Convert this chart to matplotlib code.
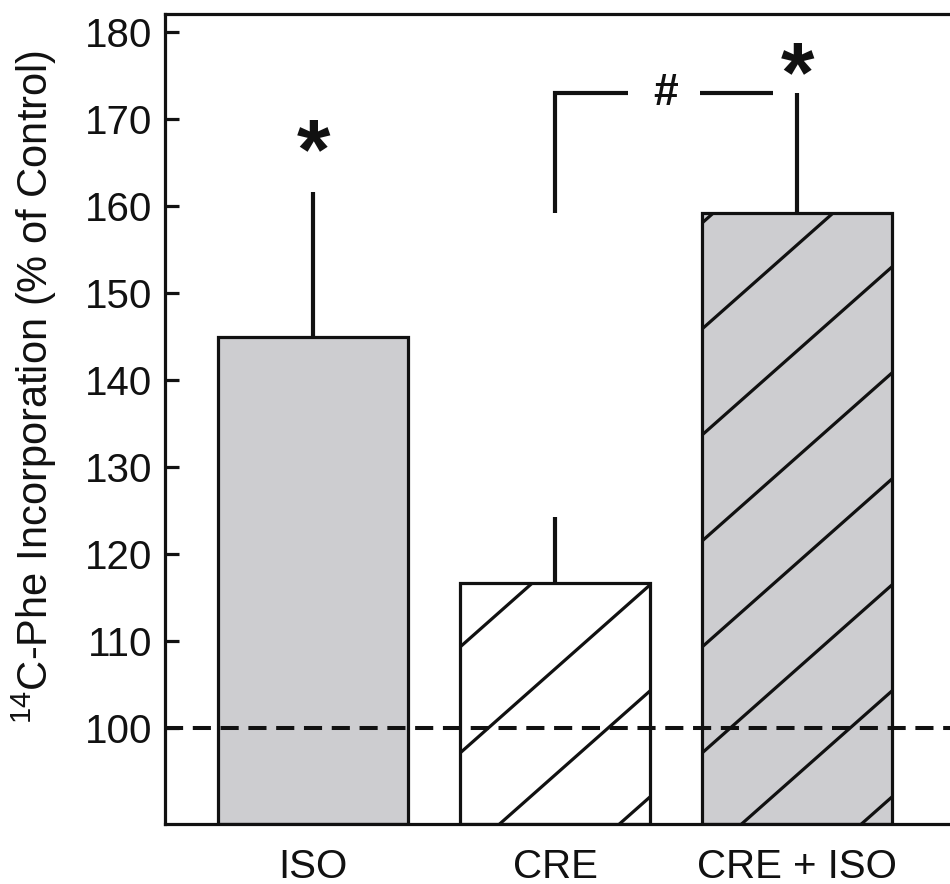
import matplotlib
matplotlib.use("Agg")
import matplotlib.pyplot as plt
import numpy as np
from matplotlib.lines import Line2D

plt.rcParams['font.family'] = ['Liberation Sans', 'DejaVu Sans']
plt.rcParams['mathtext.fontset'] = 'custom'
plt.rcParams['mathtext.rm'] = 'Liberation Sans'
plt.rcParams['mathtext.it'] = 'Liberation Sans:italic'
plt.rcParams['mathtext.bf'] = 'Liberation Sans:bold'

# data
groups = ["ISO", "CRE", "CRE + ISO"]
means = [145.0, 116.7, 159.2]
sem = [16.6, 7.6, 13.8]
fills = ["#cdcdd0", "white", "#cdcdd0"]
hatched = [False, True, True]
stars = ["*", "", "*"]
star_offset = [10, 0, -6]   # points above the top of the error bar
control = 100
yticks = [100, 110, 120, 130, 140, 150, 160, 170, 180]

INK = "#111111"
YMIN, YMAX = 89.0, 182.1

fig = plt.figure(figsize=(9.5, 8.84), dpi=100)
ax = fig.add_axes([0.1737, 0.0679, 0.8263, 0.9163])
x = np.arange(len(groups))
ax.set_xlim(-0.612, 2.632)
ax.set_ylim(YMIN, YMAX)

heights = [m - YMIN for m in means]
bars = ax.bar(x, heights, bottom=YMIN, width=0.785, color=fills,
              edgecolor=INK, linewidth=2.3, zorder=2)
ax.errorbar(x, means, yerr=[np.zeros(len(x)), sem], fmt='none',
            ecolor=INK, elinewidth=3, capsize=0, zorder=1)


def add_hatch(bar, slope=0.885, step=106, offset=71, lw=2.3):
    # wide, slightly flatter than 45 deg hatch, laid out in pixels
    x0, y0 = bar.get_x(), bar.get_y()
    (l, b), (r, t) = ax.transData.transform(
        [(x0, y0), (x0 + bar.get_width(), y0 + bar.get_height())])
    inv = ax.transData.inverted()
    for k in range(-20, 20):
        y_left = b + offset + k * step
        y_right = y_left + slope * (r - l)
        if y_right < b or y_left > t:
            continue
        pts = inv.transform([(l, y_left), (r, y_right)])
        line = Line2D(pts[:, 0], pts[:, 1], color=INK, lw=lw, zorder=2.5)
        ax.add_line(line)
        line.set_clip_path(bar)


for bar, h in zip(bars, hatched):
    if h:
        add_hatch(bar)

ax.axhline(control, color=INK, lw=2.9, dashes=(4.5, 2.4), zorder=4)

for i, s in enumerate(stars):
    if s:
        ax.annotate(s, xy=(x[i], means[i] + sem[i]), xytext=(0, star_offset[i]),
                    textcoords='offset points', ha='center', va='baseline',
                    fontsize=62, fontweight='bold', color=INK)

# bracket CRE -> CRE + ISO
bx0, bx1 = x[1], x[2]
gap = bx1 - bx0
ytop = means[2] + sem[2]
ybot = means[2]
ax.plot([bx0, bx0, bx0 + 0.30 * gap], [ybot, ytop, ytop], color=INK, lw=3,
        solid_capstyle='butt', solid_joinstyle='miter', zorder=3)
ax.plot([bx0 + 0.60 * gap, bx0 + 0.90 * gap], [ytop, ytop], color=INK, lw=3,
        solid_capstyle='butt', zorder=3)
ax.text(bx0 + 0.455 * gap, ytop, "#", ha='center', va='center',
        fontsize=32, fontweight='bold', color=INK)

ax.set_yticks(yticks)
ax.set_xticks(x)
ax.set_xticklabels(groups)
ax.tick_params(axis='y', direction='in', length=10, width=2.3, labelsize=29,
               pad=9, colors=INK)
ax.tick_params(axis='x', length=0, labelsize=29, pad=17, colors=INK)
for side in ['left', 'top', 'bottom']:
    ax.spines[side].set_linewidth(2.3)
    ax.spines[side].set_color(INK)
ax.spines['right'].set_visible(False)

fig.text(34 / 950, 1 - 387 / 884, r"$^{14}$C-Phe Incorporation (% of Control)",
         rotation=90, ha='center', va='center', fontsize=30, color=INK)

fig.savefig("out.png", dpi=100)
